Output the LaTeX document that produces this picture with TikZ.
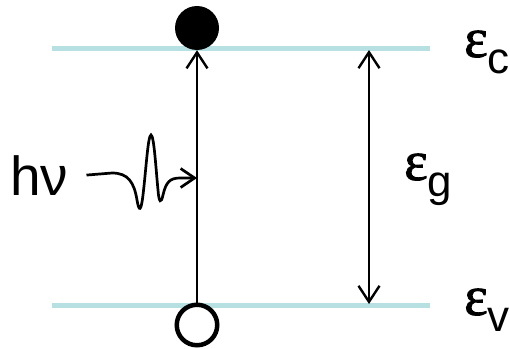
\documentclass[tikz,border=0pt]{standalone}
\usepackage{fontspec}
\setmainfont{Liberation Sans}
\newfontfamily\epsfont[FakeBold=1.5]{Liberation Serif}
\usetikzlibrary{arrows.meta, positioning}
\definecolor{bandcol}{RGB}{183,224,227}

\newcommand{\enlevel}[1]{{\epsfont\fontsize{56}{60}\selectfont ε}\raisebox{-16pt}{\fontsize{44}{48}\selectfont #1}}

\begin{document}
\begin{tikzpicture}[x=1pt, y=-1pt,
    >={Straight Barb[length=16pt, width=21pt]},
    band/.style={bandcol, line width=5pt},
    trans/.style={line width=2.4pt},
    lbl/.style={anchor=base west, inner sep=0pt}]
    \useasboundingbox (0,0) rectangle (510,348);

    % energy bands
    \draw[band] (52,48) -- (430,48);
    \draw[band] (52,305) -- (430,305);

    % electron and hole
    \node[circle, fill=black, minimum size=44pt, inner sep=0pt] (elec) at (197,28) {};
    \node[circle, draw=black, fill=white, line width=4.5pt, minimum size=40.5pt, inner sep=0pt] (hole) at (197,325) {};
    \draw[trans, ->] (hole) -- (elec);

    % band gap
    \coordinate (gtop) at (369,50);
    \coordinate (gbot) at (369,304);
    \draw[trans, <->] (gbot) -- (gtop);

    % labels
    \node[lbl] (ec) at (464,57) {\enlevel{c}};
    \node[lbl] (eg) at (404,180) {\enlevel{g}};
    \node[lbl] (ev) at (464,315) {\enlevel{v}};
    \node[lbl] (hnu) at (10,195) {\fontsize{55}{60}\selectfont hν};

    % photon
    \coordinate (hit) at (197,178);
    \draw[line width=2.7pt, -{Straight Barb[length=14pt, width=19pt]}]
        ([xshift=18pt]hnu.east) -- (112,173)
        .. controls (128,173) and (134,182) .. (137,200)
        .. controls (139,212) and (141,212) .. (143,195)
        .. controls (146,170) and (148,135) .. (151,135)
        .. controls (154,135) and (156,170) .. (158,190)
        .. controls (159,203) and (161,204) .. (163,195)
        .. controls (166,182) and (170,178) .. (180,178)
        -- (hit);
\end{tikzpicture}
\end{document}
